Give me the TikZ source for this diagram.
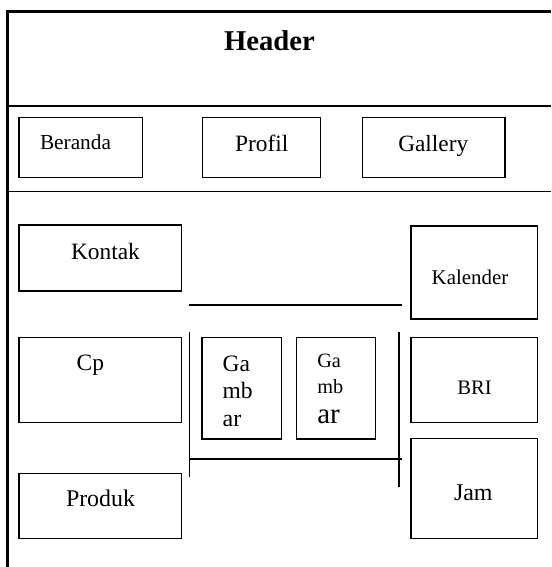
\documentclass[tikz,border=0pt]{standalone}
\usepackage{fontspec}
\setmainfont{Liberation Serif}
\tikzset{
  box/.style={draw, line width=1.1pt, inner sep=0pt, outer sep=0pt, anchor=north west},
  txt/.style={inner sep=0pt, outer sep=0pt, anchor=base west},
  rule/.style={line width=1.3pt},
  seg/.style={line width=1.6pt},
  frame/.style={line width=3.6pt}
}
\newcommand{\mybox}[5]{\node[box, minimum width={(#4-#2)*1pt}, minimum height={(#5-#3)*1pt}] (#1) at (#2,#3) {};}
\newcommand{\fs}[1]{\fontsize{#1pt}{#1pt}\selectfont}
\begin{document}
\begin{tikzpicture}[x=1pt,y=-1pt]
\useasboundingbox (0,0) rectangle (551,567);
% frame
\coordinate (fbl) at (7.5,567);
\coordinate (ftl) at (7.5,11.5);
\coordinate (ftr) at (551,11.5);
\draw[frame] (fbl) -- (ftl) -- (ftr);
% header rules
\coordinate (r1a) at (7.5,106); \coordinate (r1b) at (551,106);
\coordinate (r2a) at (7.5,191.7); \coordinate (r2b) at (551,191.7);
\draw[rule] (r1a) -- (r1b);
\draw[rule] (r2a) -- (r2b);
\node[inner sep=0pt, anchor=base, font=\bfseries\fs{28.7}] (header) at (269.5,50.7) {Header};
% menu boxes
\mybox{beranda}{19}{117.7}{142.3}{177.7}
\mybox{profil}{202.3}{117.7}{320.7}{177.7}
\mybox{gallery}{362.7}{117.7}{505}{177.7}
\node[txt, font=\fs{21.3}] (tberanda) at (40,149) {Beranda};
\node[txt, font=\fs{23.4}] (tprofil) at (235,151.7) {Profil};
\node[txt, font=\fs{23.3}] (tgallery) at (398.3,151.7) {Gallery};
% left column
\mybox{kontak}{19}{225}{181.7}{291}
\mybox{cp}{19}{337.3}{181.7}{422.3}
\mybox{produk}{19}{473.3}{181.7}{538.7}
\node[txt, font=\fs{23.4}] (tkontak) at (71,259.3) {Kontak};
\node[txt, font=\fs{23.4}] (tcp) at (76.7,370.7) {Cp};
\node[txt, font=\fs{23.9}] (tproduk) at (66,506.7) {Produk};
% right column
\mybox{kalender}{411}{226}{537.3}{319}
\mybox{bri}{411}{337.7}{537.3}{422.3}
\mybox{jam}{411}{438.7}{537.3}{538.7}
\node[txt, font=\fs{20.9}] (tkalender) at (431.7,284) {Kalender};
\node[txt, font=\fs{20.6}] (tbri) at (457.3,394) {BRI};
\node[txt, font=\fs{24}] (tjam) at (454,500) {Jam};
% centre
\coordinate (h1a) at (189,305); \coordinate (h1b) at (401.7,305);
\coordinate (h2a) at (189,459); \coordinate (h2b) at (401.7,459);
\coordinate (v1a) at (189.5,332.3); \coordinate (v1b) at (189.5,476.7);
\coordinate (v2a) at (399,332.3); \coordinate (v2b) at (399,486.5);
\draw[seg] (h1a) -- (h1b);
\draw[seg] (h2a) -- (h2b);
\draw[seg] (v1a) -- (v1b);
\draw[seg] (v2a) -- (v2b);
\mybox{gambar1}{202}{337.7}{281.3}{439}
\mybox{gambar2}{296.3}{337.7}{375.7}{439}
\node[txt, font=\fs{23.5}] (g1a) at (222.7,371) {Ga};
\node[txt, font=\fs{23.5}] (g1b) at (222.7,398.3) {mb};
\node[txt, font=\fs{24}] (g1c) at (222.7,426.7) {ar};
\node[txt, font=\fs{20.3}] (g2a) at (317.3,367.7) {Ga};
\node[txt, font=\fs{20.3}] (g2b) at (317.3,393.3) {mb};
\node[txt, font=\fs{29}] (g2c) at (317.3,423.3) {ar};
\end{tikzpicture}
\end{document}
